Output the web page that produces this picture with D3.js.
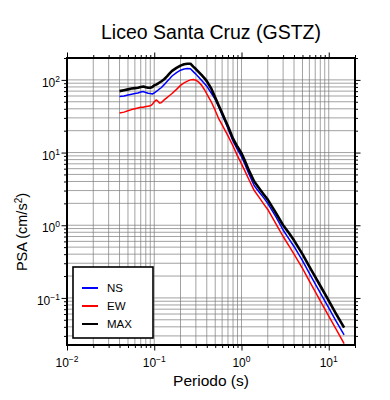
<!DOCTYPE html>
<html>
<head>
<meta charset="utf-8">
<script src="https://cdn.jsdelivr.net/npm/d3@7"></script>
<style>
body { margin: 0; background: #fff; }
text { font-family: "Liberation Sans", Arial, sans-serif; fill: #000; }
</style>
</head>
<body>
<script>
// periodos (s) y aceleraciones espectrales (cm/s2)
var periods = [0.04, 0.045, 0.05, 0.055, 0.06, 0.065, 0.07, 0.075, 0.08, 0.085,
    0.09, 0.095, 0.1, 0.105, 0.11, 0.115, 0.12, 0.13, 0.14, 0.15,
    0.16, 0.18, 0.2, 0.22, 0.24, 0.26, 0.28, 0.3, 0.32, 0.35,
    0.38, 0.4, 0.45, 0.5, 0.55, 0.6, 0.65, 0.7, 0.8, 0.9,
    1.0, 1.1, 1.2, 1.4, 1.6, 1.8, 2.0, 2.5, 3, 3.5,
    4, 5, 6, 7, 8, 10, 12, 15];
var psaNS = [59, 60, 62, 63.5, 65, 66, 68, 69, 67, 65.5,
    65, 64, 66, 69, 72, 75, 78, 86, 95, 104,
    113, 126, 136, 141, 143, 142, 130, 120, 110, 98,
    88, 82, 66, 54, 42, 33, 26.5, 21.5, 14.3, 11,
    8.8, 6.8, 5.3, 3.5, 2.85, 2.38, 2.0, 1.28, 0.86, 0.65,
    0.51, 0.325, 0.217, 0.156, 0.117, 0.073, 0.049, 0.031];
var psaEW = [35, 36, 37.5, 39, 40, 41, 42, 42, 43, 43.5,
    44, 46, 50, 53, 51, 48, 48.5, 53, 57, 61,
    65, 74, 84, 91, 96, 100, 101, 99, 94, 84,
    72, 64, 50, 38, 29, 24, 20, 17, 12.3, 9,
    7, 5.5, 4.4, 3.0, 2.4, 1.95, 1.65, 1.03, 0.7, 0.52,
    0.4, 0.255, 0.17, 0.122, 0.091, 0.056, 0.038, 0.0235];
var psaMAX = [70, 72, 74, 76, 77, 78, 80, 81, 79, 78,
    78, 80, 84, 86, 89, 92, 95, 102, 112, 123,
    133, 146, 157, 164, 167, 167, 152, 141, 130, 116,
    104, 96, 76, 57, 44, 35, 28, 23, 15.5, 12,
    9.8, 7.6, 5.9, 4.0, 3.2, 2.65, 2.25, 1.45, 1.0, 0.78,
    0.62, 0.40, 0.27, 0.195, 0.147, 0.092, 0.062, 0.039];

var xMajor = [-2, -1, 0, 1];
var yMajor = [-1, 0, 1, 2];

var series = [
    { name: 'NS', color: '#0000ff', width: 1.5, values: psaNS },
    { name: 'EW', color: '#ff0000', width: 1.5, values: psaEW },
    { name: 'MAX', color: '#000000', width: 2.6, values: psaMAX }
];

var svg = d3.select('body').append('svg')
    .attr('width', 390)
    .attr('height', 400);

var margin = { top: 58, right: 35, bottom: 55, left: 67 },
    width = +svg.attr('width') - margin.left - margin.right,
    height = +svg.attr('height') - margin.top - margin.bottom,
    g = svg.append('g').attr('transform', 'translate(' + margin.left + ',' + margin.top + ')');

var x = d3.scaleLog().domain([0.01, 20]).range([0, width]);
var y = d3.scaleLog().domain([0.0225, 200]).range([height, 0]);

var xt = x.ticks(), yt = y.ticks();
function isMajor(v) {
    var l = Math.log10(v);
    return Math.abs(l - Math.round(l)) < 1e-6;
}

// rejilla
g.append('g').selectAll('line').data(xt).enter().append('line')
    .attr('x1', x).attr('x2', x).attr('y1', 0).attr('y2', height)
    .attr('stroke', '#7a7a7a').attr('stroke-width', 0.7);
g.append('g').selectAll('line').data(yt).enter().append('line')
    .attr('y1', y).attr('y2', y).attr('x1', 0).attr('x2', width)
    .attr('stroke', '#7a7a7a').attr('stroke-width', 0.7);

g.append('clipPath').attr('id', 'clip')
    .append('rect').attr('width', width).attr('height', height);

var line = d3.line()
    .x(function (d) { return x(d[0]); })
    .y(function (d) { return y(d[1]); });

g.append('g').attr('clip-path', 'url(#clip)')
    .selectAll('path').data(series).enter().append('path')
    .attr('fill', 'none')
    .attr('stroke', function (d) { return d.color; })
    .attr('stroke-width', function (d) { return d.width; })
    .attr('stroke-linejoin', 'round')
    .attr('d', function (d) { return line(d3.zip(periods, d.values)); });

// ejes en los cuatro lados, marcas hacia fuera
function styleAxis(sel, horiz, sign) {
    sel.select('.domain').remove();
    sel.selectAll('.tick line')
        .attr('stroke', '#000')
        .attr('stroke-width', 1)
        .attr(horiz ? 'y2' : 'x2', function (d) { return sign * (isMajor(d) ? 5.5 : 3); });
}
g.append('g').attr('transform', 'translate(0,' + height + ')')
    .call(d3.axisBottom(x).tickValues(xt).tickFormat(''))
    .call(styleAxis, true, 1);
g.append('g')
    .call(d3.axisTop(x).tickValues(xt).tickFormat(''))
    .call(styleAxis, true, -1);
g.append('g')
    .call(d3.axisLeft(y).tickValues(yt).tickFormat(''))
    .call(styleAxis, false, -1);
g.append('g').attr('transform', 'translate(' + width + ',0)')
    .call(d3.axisRight(y).tickValues(yt).tickFormat(''))
    .call(styleAxis, false, 1);

g.append('rect')
    .attr('width', width).attr('height', height)
    .attr('fill', 'none').attr('stroke', '#000').attr('stroke-width', 2);

function pow10(sel, e) {
    sel.append('tspan').text('10');
    sel.append('tspan').attr('dy', -5).style('font-size', '8.5px')
        .text(e < 0 ? '\u2212' + (-e) : e);
}

g.append('g').selectAll('text').data(xMajor).enter().append('text')
    .attr('x', function (d) { return x(Math.pow(10, d)); })
    .attr('y', height + 22)
    .style('font-size', '12px')
    .style('text-anchor', 'middle')
    .each(function (d) { d3.select(this).call(pow10, d); });

g.append('g').selectAll('text').data(yMajor).enter().append('text')
    .attr('x', -7)
    .attr('y', function (d) { return y(Math.pow(10, d)) + 7; })
    .style('font-size', '12px')
    .style('text-anchor', 'end')
    .each(function (d) { d3.select(this).call(pow10, d); });

// titulos
svg.append('text')
    .attr('x', margin.left + width / 2)
    .attr('y', 38.5)
    .style('font-size', '19.5px')
    .style('text-anchor', 'middle')
    .text('Liceo Santa Cruz (GSTZ)');

svg.append('text')
    .attr('x', margin.left + width / 2)
    .attr('y', 386)
    .style('font-size', '15.5px')
    .style('text-anchor', 'middle')
    .text('Periodo (s)');

var yl = svg.append('text')
    .attr('transform', 'translate(27,232) rotate(-90)')
    .style('font-size', '14.5px')
    .style('text-anchor', 'middle');
yl.append('tspan').text('PSA (cm/s');
yl.append('tspan').attr('dy', -5).style('font-size', '10px').text('2');
yl.append('tspan').attr('dy', 5).text(')');

// leyenda
var legend = g.append('g').attr('transform', 'translate(6,209)');
legend.append('rect')
    .attr('width', 80).attr('height', 71)
    .attr('fill', '#fff').attr('stroke', '#000').attr('stroke-width', 1.6);
var item = legend.selectAll('.item').data(series).enter().append('g')
    .attr('class', 'item')
    .attr('transform', function (d, i) { return 'translate(0,' + (21 + i * 18) + ')'; });
item.append('line')
    .attr('x1', 9).attr('x2', 25)
    .attr('stroke', function (d) { return d.color; })
    .attr('stroke-width', 2);
item.append('text')
    .attr('x', 34)
    .attr('dy', '0.36em')
    .style('font-size', '11.5px')
    .text(function (d) { return d.name; });
</script>
</body>
</html>
